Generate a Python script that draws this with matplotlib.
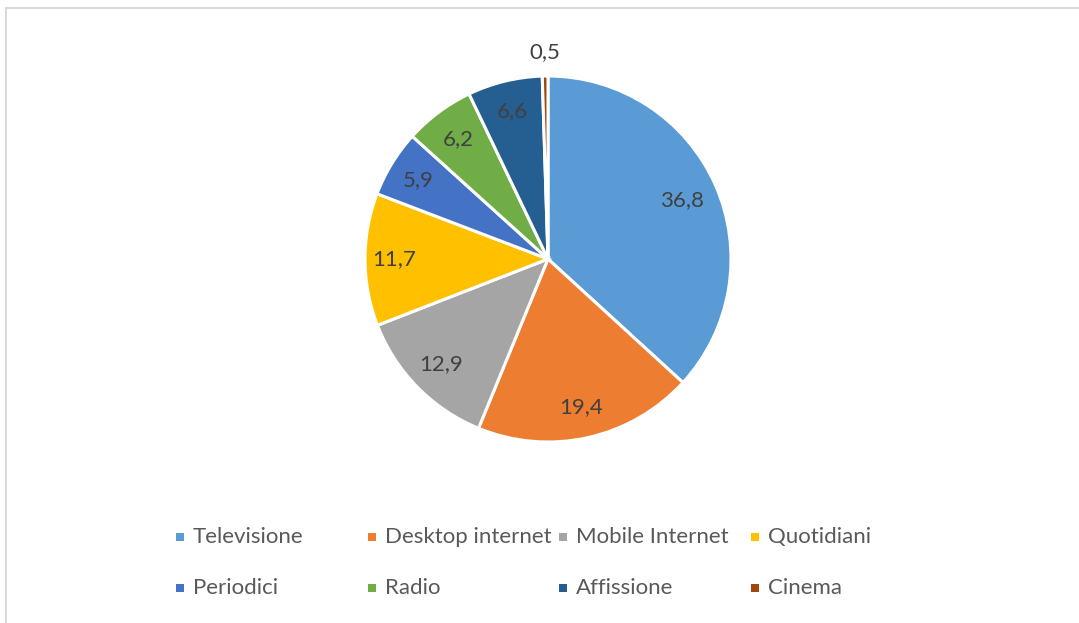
import matplotlib
matplotlib.use("Agg")
import matplotlib.pyplot as plt
from matplotlib.patches import Rectangle
import numpy as np

# Media share of advertising spend
categories = ["Televisione", "Desktop internet", "Mobile Internet", "Quotidiani",
              "Periodici", "Radio", "Affissione", "Cinema"]
values = [36.8, 19.4, 12.9, 11.7, 5.9, 6.2, 6.6, 0.5]
value_labels = ["36,8", "19,4", "12,9", "11,7", "5,9", "6,2", "6,6", "0,5"]

colors = ["#5B9BD5", "#ED7D31", "#A5A5A5", "#FFC000",
          "#4472C4", "#70AD47", "#255E91", "#9E480E"]
label_radius = [0.80, 0.83, 0.82, 0.84, 0.83, 0.82, 0.83, 1.13]

W, H = 1079, 623
fig = plt.figure(figsize=(W / 100, H / 100), dpi=100)
fig.patch.set_facecolor("white")

FONT = "Lato"
LABEL_COLOR = "#404040"
LEGEND_COLOR = "#595959"

# chart-area frame (runs off the right and bottom edges)
fig.patches.append(Rectangle((6 / W, -0.1), 1.2, (H - 8) / H + 0.1,
                             transform=fig.transFigure, fill=False,
                             edgecolor="#D9D9D9", linewidth=1.4))

# pie axes: centre (548, 259), radius 183 px
cx, cy, R = 548, 259, 183
ax = fig.add_axes([(cx - R) / W, (H - cy - R) / H, 2 * R / W, 2 * R / H])
wedges, _ = ax.pie(values, colors=colors, startangle=90, counterclock=False,
                   radius=1.0,
                   wedgeprops=dict(edgecolor="white", linewidth=2.2))
ax.set_xlim(-1, 1)
ax.set_ylim(-1, 1)
ax.set_aspect("equal")
ax.axis("off")

for w, lab, r in zip(wedges, value_labels, label_radius):
    mid = np.deg2rad((w.theta1 + w.theta2) / 2)
    ax.text(r * np.cos(mid), r * np.sin(mid), lab, ha="center", va="center",
            fontsize=16, color=LABEL_COLOR, family=FONT)

# legend: two rows of four equally spaced entries
col_x = [176, 368, 559, 751]
row_y = [537, 588]
sq = 8
for i, (name, c) in enumerate(zip(categories, colors)):
    x = col_x[i % 4]
    y = row_y[i // 4]
    fig.patches.append(Rectangle((x / W, (H - y - sq / 2) / H), sq / W, sq / H,
                                 transform=fig.transFigure, facecolor=c,
                                 edgecolor="none"))
    fig.text((x + sq + 9) / W, (H - y) / H, name, ha="left", va="center",
             fontsize=16, color=LEGEND_COLOR, family=FONT)

fig.savefig("out.png", dpi=100, facecolor="white")
